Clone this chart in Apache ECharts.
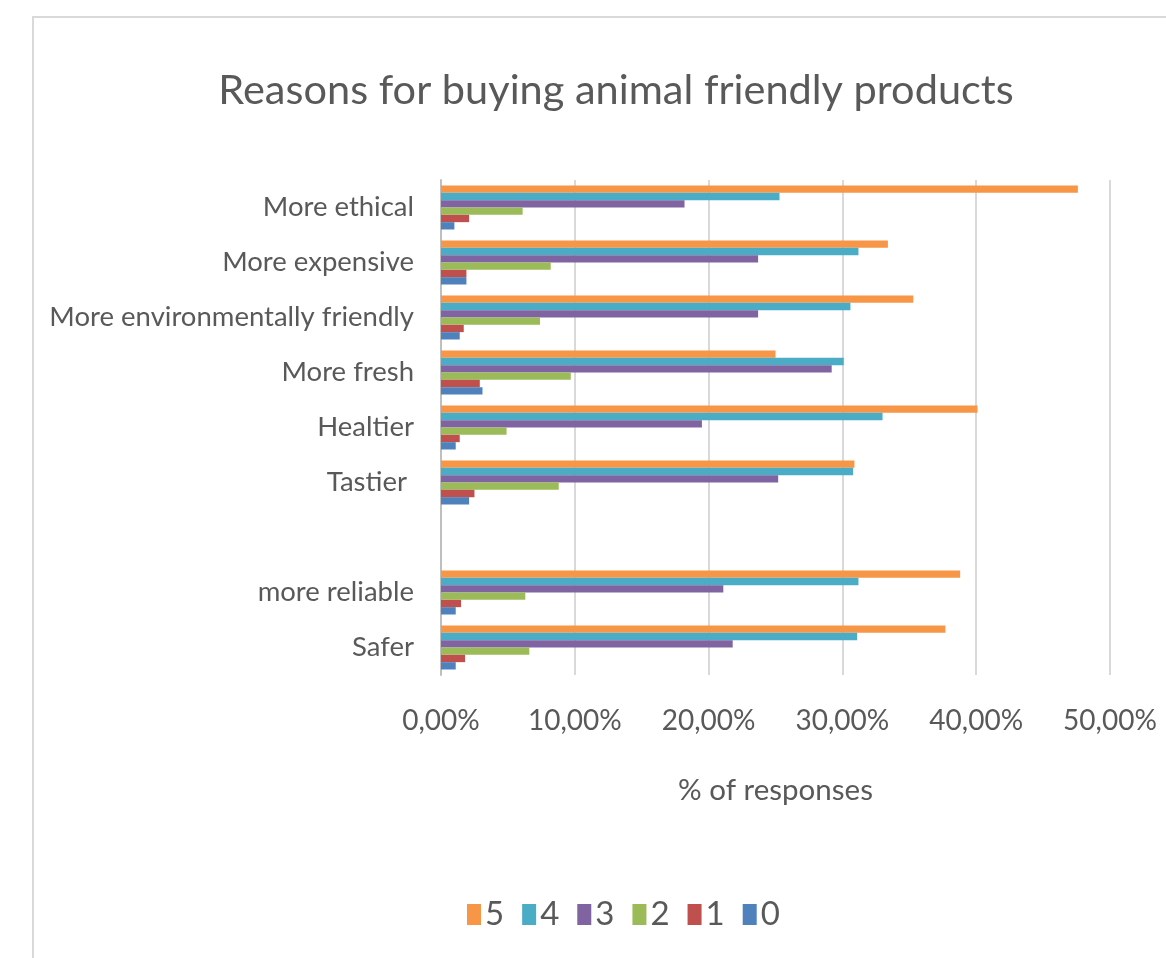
<!DOCTYPE html>
<html>
<head>
<meta charset="utf-8">
<script src="https://cdn.jsdelivr.net/npm/echarts@6/dist/echarts.min.js"></script>
<style>
html,body{margin:0;padding:0;background:#fff;}
#frame{position:absolute;left:32px;top:16px;right:0;bottom:0;border-left:2px solid #d9d9d9;border-top:2px solid #d9d9d9;}
#chart{position:absolute;left:0;top:0;width:1166px;height:958px;}
</style>
</head>
<body>
<div id="frame"></div>
<div id="chart"></div>
<script>
const categories = ['More ethical','More expensive','More environmentally friendly','More fresh','Healtier','Tastier ','','more reliable','Safer'];
const seriesNames = ['5','4','3','2','1','0'];
const s5 = [47.6, 33.4, 35.3, 25.0, 40.1, 30.9, null, 38.8, 37.7];
const s4 = [25.3, 31.2, 30.6, 30.1, 33.0, 30.8, null, 31.2, 31.1];
const s3 = [18.2, 23.7, 23.7, 29.2, 19.5, 25.2, null, 21.1, 21.8];
const s2 = [6.1, 8.2, 7.4, 9.7, 4.9, 8.8, null, 6.3, 6.6];
const s1 = [2.1, 1.9, 1.7, 2.9, 1.4, 2.5, null, 1.5, 1.8];
const s0 = [1.0, 1.9, 1.4, 3.1, 1.1, 2.1, null, 1.1, 1.1];
const xTicks = [0, 10, 20, 30, 40, 50];
const colors = ['#F79646','#4BACC6','#8064A2','#9BBB59','#C0504D','#4F81BD'];
const values = [s5, s4, s3, s2, s1, s0];

const FONT = 'Lato, "Open Sans", sans-serif';
const TXT = '#595959';

const chart = echarts.init(document.getElementById('chart'), null, {renderer:'canvas'});
chart.setOption({
  animation: false,
  color: colors,
  title: {
    text: 'Reasons for buying animal friendly products',
    left: 611, top: 65, textAlign: 'center',
    textStyle: {fontFamily: FONT, fontSize: 41.5, fontWeight: 'normal', color: TXT}
  },
  legend: {
    data: seriesNames,
    left: 462, top: 893,
    itemWidth: 14, itemHeight: 21, itemGap: 18,
    icon: 'rect',
    textStyle: {fontFamily: FONT, fontSize: 33, color: TXT, padding:[0,0,0,-1]}
  },
  grid: {left: 441, right: 56, top: 180, bottom: 283, containLabel: false, outerBoundsMode: 'none'},
  xAxis: {
    type: 'value', min: xTicks[0], max: xTicks[xTicks.length-1], interval: 10,
    name: '% of responses', nameLocation: 'middle', nameGap: 100,
    nameTextStyle: {fontFamily: FONT, fontSize: 29.5, color: TXT},
    axisLine: {show: false}, axisTick: {show: false},
    axisLabel: {margin: 32, fontFamily: FONT, fontSize: 28, color: TXT,
      formatter: v => v.toFixed(2).replace('.', ',') + '%'},
    splitLine: {show: true, lineStyle: {color: '#d9d9d9', width: 2}}
  },
  yAxis: {
    type: 'category', data: categories, inverse: true,
    axisLine: {show: true, lineStyle: {color: '#bfbfbf', width: 2}},
    axisTick: {show: false},
    axisLabel: {margin: 27, fontFamily: FONT, fontSize: 27.5, color: TXT}
  },
  series: values.map((d, i) => ({
    name: seriesNames[i], type: 'bar', data: d,
    barGap: '0%', barCategoryGap: '20%',
    itemStyle: {color: colors[i]}
  }))
});
</script>
</body>
</html>
